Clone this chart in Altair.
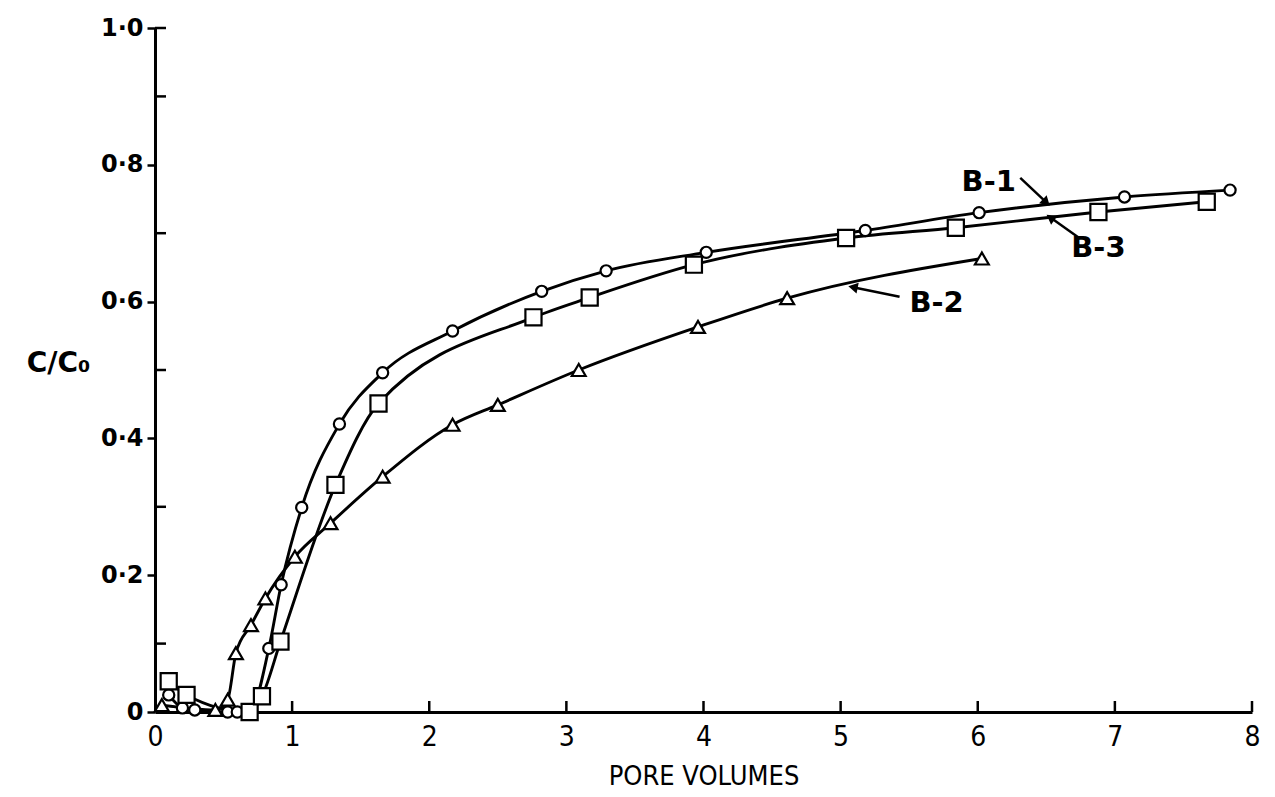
import math
import altair as alt
import pandas as pd

# ---------------- data ----------------
b1_x = [0.10, 0.20, 0.29, 0.53, 0.60, 0.69, 0.83, 0.92, 1.07, 1.345, 1.66, 2.17, 2.82, 3.29, 4.02, 5.18, 6.01, 7.07, 7.84]
b1_y = [0.025, 0.006, 0.003, 0.0, 0.0, 0.0, 0.093, 0.186, 0.299, 0.421, 0.496, 0.557, 0.615, 0.645, 0.672, 0.704, 0.730, 0.753, 0.763]

b2_x = [0.05, 0.44, 0.53, 0.59, 0.70, 0.805, 1.02, 1.28, 1.66, 2.17, 2.50, 3.09, 3.96, 4.61, 6.03]
b2_y = [0.010, 0.003, 0.018, 0.086, 0.127, 0.166, 0.227, 0.276, 0.344, 0.420, 0.449, 0.500, 0.563, 0.605, 0.663]

b3_x = [0.10, 0.23, 0.69, 0.78, 0.915, 1.316, 1.63, 2.76, 3.17, 3.93, 5.04, 5.84, 6.88, 7.67]
b3_y = [0.045, 0.025, 0.0, 0.023, 0.103, 0.332, 0.451, 0.577, 0.606, 0.654, 0.693, 0.708, 0.731, 0.746]

series_names = ["B-1", "B-2", "B-3"]
series_shapes = ["circle", "triangle-up", "square"]
series_sizes = [125, 260, 105]

x_ticks = [0, 1, 2, 3, 4, 5, 6, 7, 8]
y_ticks = [0, 0.2, 0.4, 0.6, 0.8, 1.0]
y_minor = [0.1, 0.3, 0.5, 0.7, 0.9, 1.0]

# annotation labels (data units)
label_text = ["B-1", "B-3", "B-2"]
label_x = [6.08, 6.88, 5.70]
label_y = [0.775, 0.678, 0.598]
# arrows: tail -> head (data units)
arrow_x1 = [6.31, 6.74, 5.43]
arrow_y1 = [0.781, 0.693, 0.607]
arrow_x2 = [6.50, 6.53, 5.09]
arrow_y2 = [0.745, 0.723, 0.621]

# ---------------- layout ----------------
W, H = 1097, 684
PX_X = W / 8.0
PX_Y = H / 1.0
FONT = "DejaVu Sans"
NARROW = "Liberation Sans Narrow, DejaVu Sans Condensed, DejaVu Sans"

rows = []
for name, xs_, ys_ in [("B-1", b1_x, b1_y), ("B-2", b2_x, b2_y), ("B-3", b3_x, b3_y)]:
    for xv, yv in zip(xs_, ys_):
        rows.append({"series": name, "pv": xv, "c": yv})
df = pd.DataFrame(rows)

xs = alt.Scale(domain=[0, 8], nice=False, zero=False)
ys = alt.Scale(domain=[0, 1], nice=False, zero=False)

label_expr_y = "datum.value == 0 ? '0' : replace(format(datum.value, '.1f'), '.', '·')"

base = alt.Chart(df)

lines = base.mark_line(interpolate="monotone", color="black", strokeWidth=2.9).encode(
    x=alt.X("pv:Q", scale=xs,
            axis=alt.Axis(values=x_ticks, format="d", ticks=False, grid=False, domainWidth=3, domainColor="black",
                          labelFlush=False, labelFont=NARROW, labelFontSize=28, labelColor="black", labelPadding=11,
                          title="PORE VOLUMES", titleFont=NARROW,
                          titleFontSize=27, titleFontWeight="normal", titleColor="black", titlePadding=12)),
    y=alt.Y("c:Q", scale=ys,
            axis=alt.Axis(values=y_ticks, labelExpr=label_expr_y, tickSize=8, tickWidth=2.5, tickColor="black",
                          grid=False, domainWidth=3, domainColor="black", labelFlush=False,
                          labelFont=FONT, labelFontSize=24, labelFontWeight="bold", labelColor="black", labelPadding=4,
                          title="C/C₀", titleAngle=0, titleFont=FONT, titleFontSize=28,
                          titleFontWeight="bold", titleColor="black", titleAlign="center",
                          titleBaseline="middle", titleX=-97, titleY=335)),
    detail="series:N",
)

points = base.mark_point(filled=True, fill="white", stroke="black", strokeWidth=2.2, opacity=1).encode(
    x=alt.X("pv:Q", scale=xs),
    y=alt.Y("c:Q", scale=ys),
    shape=alt.Shape("series:N", scale=alt.Scale(domain=series_names, range=series_shapes), legend=None),
    size=alt.Size("series:N", scale=alt.Scale(domain=series_names, range=series_sizes), legend=None),
)

xt = alt.Chart(pd.DataFrame({"t": x_ticks[1:]})).mark_rule(color="black", strokeWidth=2.5).encode(
    x=alt.X("t:Q", scale=xs), y=alt.value(H), y2=alt.value(H - 11))

yt = alt.Chart(pd.DataFrame({"t": y_minor})).mark_rule(color="black", strokeWidth=2.5).encode(
    y=alt.Y("t:Q", scale=ys), x=alt.value(0), x2=alt.value(11))

lab = alt.Chart(pd.DataFrame({"t": label_text, "x": label_x, "y": label_y})).mark_text(
    font=FONT, fontSize=29, fontWeight="bold", color="black", align="center", baseline="middle").encode(
    x=alt.X("x:Q", scale=xs), y=alt.Y("y:Q", scale=ys), text="t:N")

angles = []
for x1, y1, x2, y2 in zip(arrow_x1, arrow_y1, arrow_x2, arrow_y2):
    dx = (x2 - x1) * PX_X
    dy = -(y2 - y1) * PX_Y
    angles.append((math.degrees(math.atan2(dx, -dy)) + 360) % 360)

adf = pd.DataFrame({"x1": arrow_x1, "y1": arrow_y1, "x2": arrow_x2, "y2": arrow_y2, "ang": angles})
arrows = alt.Chart(adf).mark_rule(color="black", strokeWidth=2.5).encode(
    x=alt.X("x1:Q", scale=xs), y=alt.Y("y1:Q", scale=ys), x2="x2:Q", y2="y2:Q")
heads = alt.Chart(adf).mark_point(shape="triangle-up", filled=True, color="black", size=120, opacity=1).encode(
    x=alt.X("x2:Q", scale=xs), y=alt.Y("y2:Q", scale=ys), angle=alt.Angle("ang:Q", scale=None))

chart = alt.layer(lines, xt, yt, points, arrows, heads, lab).properties(
    width=W, height=H,
    autosize=alt.AutoSizeParams(type="none"),
    padding={"left": 147, "top": 20, "right": 12, "bottom": 82},
    background="white",
).configure_view(stroke=None)

chart.save("out.html", embed_options={"renderer": "svg", "actions": False})
